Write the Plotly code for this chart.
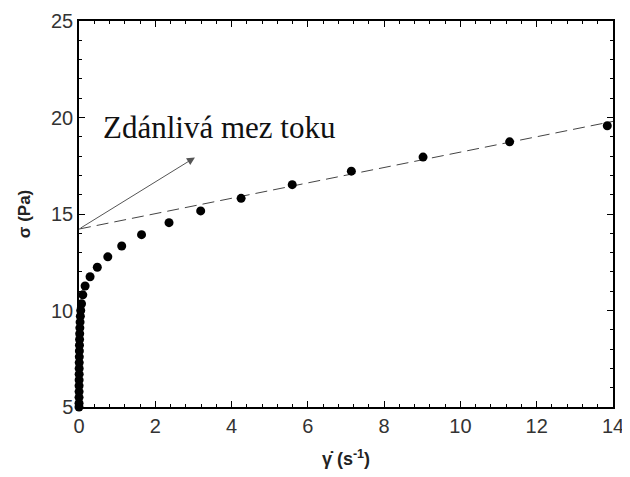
import plotly.graph_objects as go

# Measured data points (shear rate, shear stress)
shear_rate = [13.85, 11.29, 9.02, 7.14, 5.59, 4.25, 3.19, 2.36, 1.64, 1.12, 0.755, 0.48,
              0.29, 0.16, 0.10, 0.066, 0.045, 0.035, 0.028, 0.022, 0.018, 0.015, 0.012,
              0.010, 0.008, 0.006, 0.005, 0.004, 0.003, 0.002, 0.002, 0.001, 0.001, 0.0]
shear_stress = [19.57, 18.74, 17.95, 17.22, 16.52, 15.81, 15.16, 14.55, 13.93, 13.34, 12.78, 12.24,
                11.75, 11.27, 10.81, 10.35, 10.0, 9.7, 9.4, 9.1, 8.8, 8.5, 8.2,
                7.9, 7.6, 7.3, 7.0, 6.7, 6.4, 6.1, 5.8, 5.5, 5.2, 5.0]

# Dashed linear fit (Bingham extrapolation)
fit_x = [0, 14]
fit_y = [14.22, 19.8]

# Arrow (tail -> head) and label
arrow_tail = [0, 14.22]
arrow_head = [3.04, 17.93]
label_text = "Zdánlivá mez toku"
label_pos = [0.58, 19.5]

x_ticks = [0, 2, 4, 6, 8, 10, 12, 14]
y_ticks = [5, 10, 15, 20, 25]

fig = go.Figure()
fig.add_trace(go.Scatter(x=fit_x, y=fit_y, mode="lines",
                         line=dict(color="#444", width=1, dash="12px,6px"),
                         showlegend=False, hoverinfo="skip"))
fig.add_trace(go.Scatter(x=shear_rate, y=shear_stress, mode="markers",
                         marker=dict(color="black", size=9),
                         cliponaxis=False, showlegend=False))

fig.add_annotation(x=arrow_head[0], y=arrow_head[1], ax=arrow_tail[0], ay=arrow_tail[1],
                   xref="x", yref="y", axref="x", ayref="y", text="",
                   showarrow=True, arrowhead=2, arrowsize=1.6, arrowwidth=1,
                   arrowcolor="#555")
fig.add_annotation(x=label_pos[0], y=label_pos[1], xref="x", yref="y", text=label_text,
                   showarrow=False, xanchor="left", yanchor="middle",
                   font=dict(family="Liberation Serif", size=31, color="#111"))

axis_common = dict(showline=True, linecolor="black", linewidth=1.5, mirror="ticks",
                   ticks="inside", ticklen=6, tickcolor="black", tickwidth=1,
                   showgrid=False, zeroline=False, automargin=False,
                   tickfont=dict(family="Liberation Sans", size=20, color="#333"))

fig.update_xaxes(range=[0, 14], tickvals=x_ticks, **axis_common,
                 minor=dict(dtick=0.4, tick0=0, ticks="inside", ticklen=3,
                            tickcolor="black", showgrid=False),
                 title=dict(text="<b>γ̇ (s<sup>-1</sup>)</b>", standoff=17,
                            font=dict(family="Liberation Sans", size=18, color="#222")))
fig.update_yaxes(range=[5, 25], tickvals=y_ticks, **axis_common,
                 minor=dict(dtick=1, tick0=0, ticks="inside", ticklen=3,
                            tickcolor="black", showgrid=False),
                 title=dict(text="<b>σ (Pa)</b>", standoff=16,
                            font=dict(family="Liberation Sans", size=17, color="#222")))

# The page body adds an 8px offset, so the figure is sized/margined to compensate
fig.update_layout(width=622, height=469, paper_bgcolor="white", plot_bgcolor="white",
                  margin=dict(l=71, r=17, t=13, b=70), showlegend=False)

fig.write_html("out.html")
